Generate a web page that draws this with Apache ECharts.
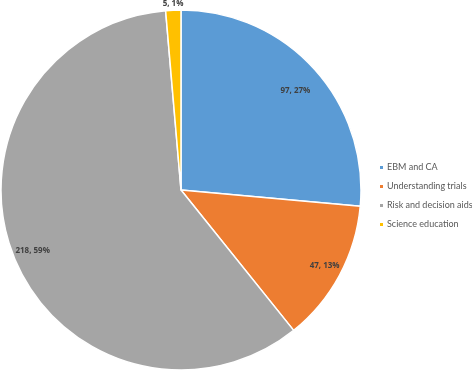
<!DOCTYPE html>
<html><head><meta charset="utf-8">
<script src="https://cdn.jsdelivr.net/npm/echarts@6/dist/echarts.min.js"></script>
<style>html,body{margin:0;padding:0;background:#fff}#c{width:472px;height:372px}</style>
</head><body><div id="c"></div>
<script>
const categories = ['EBM and CA', 'Understanding trials', 'Risk and decision aids', 'Science education'];
const values = [97, 47, 218, 5];
const colors = ['#5B9BD5', '#ED7D31', '#A5A5A5', '#FFC000'];
const outsideLabel = [false, false, false, true];
const labelOffsets = [[-6, 11], [0, -1], [3, 0], [0, 1]];

const center = [181, 190];
const R = 180;
const data = categories.map((n, i) => ({ name: n, value: values[i], itemStyle: { color: colors[i] } }));
const labelFont = { fontFamily: 'Open Sans', fontSize: 8, fontWeight: 'bold', color: '#404040' };

const chart = echarts.init(document.getElementById('c'), null, { renderer: 'canvas' });
chart.setOption({
  animation: false,
  legend: {
    orient: 'vertical', left: 373, top: 158,
    itemWidth: 5, itemHeight: 5, itemGap: 10, icon: 'rect',
    textStyle: { fontFamily: 'Lato', fontSize: 9, color: '#595959', padding: [0, 0, 0, -2] },
    data: categories
  },
  series: [
    {
      type: 'pie', center: center, radius: [0, R], startAngle: 90, clockwise: true,
      silent: true, label: { show: false }, labelLine: { show: false },
      itemStyle: { borderColor: '#fff', borderWidth: 1.5 },
      data: data
    },
    {
      type: 'pie', center: center, radius: [0, 2 * 160], startAngle: 90, clockwise: true,
      silent: true, legendHoverLink: false, labelLine: { show: false }, percentPrecision: 0,
      itemStyle: { color: 'transparent' },
      label: Object.assign({ position: 'inside', formatter: '{c}, {d}%' }, labelFont),
      data: categories.map((n, i) => ({ name: n, value: values[i], itemStyle: { color: 'transparent' }, label: { show: !outsideLabel[i], offset: labelOffsets[i] } }))
    },
    {
      type: 'pie', center: center, radius: [176, 192], startAngle: 90, clockwise: true,
      silent: true, legendHoverLink: false, labelLine: { show: false }, percentPrecision: 0,
      itemStyle: { color: 'transparent' },
      label: Object.assign({ position: 'inside', formatter: '{c}, {d}%' }, labelFont),
      data: categories.map((n, i) => ({ name: n, value: values[i], itemStyle: { color: 'transparent' }, label: { show: outsideLabel[i], offset: labelOffsets[i] } }))
    }
  ]
});
</script></body></html>
